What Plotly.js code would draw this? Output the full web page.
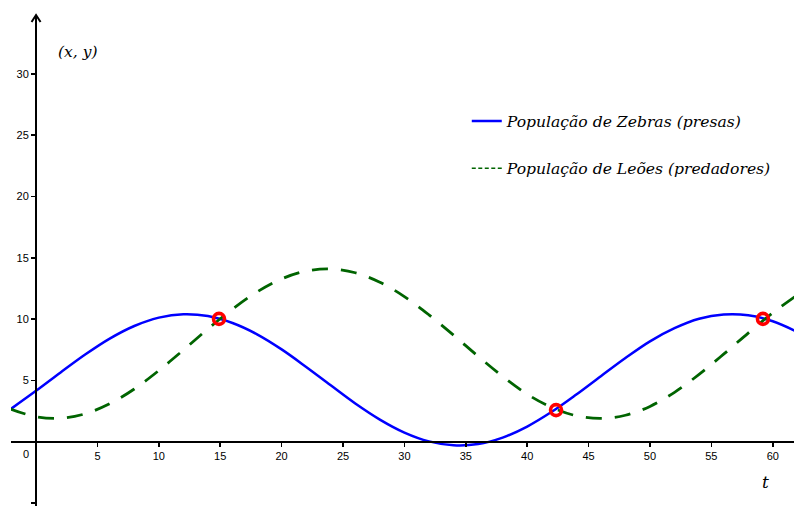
<!DOCTYPE html>
<html><head><meta charset="utf-8">
<script src="https://cdn.plot.ly/plotly-3.0.1.min.js"></script>
<style>html,body{margin:0;padding:0;background:#fff}</style>
</head><body><div id="chart" style="width:794px;height:506px"></div>
<script>
// time (t)
const t = [-2.1,0,2,4,6,8,10,12,14,16,18,20,22,24,26,28,30,32,34,36,38,40,42,44,46,48,50,52,54,56,58,60,62];
// Zebras (prey) population x(t)
const zebras = [2.64,4.15,5.65,7.11,8.41,9.44,10.12,10.40,10.25,9.68,8.76,7.53,6.10,4.60,3.12,1.81,0.75,0.03,-0.29,-0.19,0.34,1.24,2.44,3.85,5.35,6.83,8.19,9.26,10.03,10.37,10.31,9.83,8.96];
// Lions (predators) population y(t)
const leoes = [2.68,2.04,1.92,2.28,3.10,4.30,5.81,7.48,9.20,10.82,12.22,13.28,13.92,14.09,13.78,13.01,11.84,10.35,8.69,6.97,5.33,3.88,2.80,2.12,1.90,2.16,2.88,4.03,5.49,7.14,8.86,10.51,11.97];
// intersection points
const crossT = [14.9, 42.35, 59.2];
const crossV = [10.02, 2.58, 10.02];
// ticks
const xTicks = [5,10,15,20,25,30,35,40,45,50,55,60];
const yTicks = [-5,5,10,15,20,25,30];
const yTickText = ['','5','10','15','20','25','30'];
const nameZebras = 'População de Zebras (presas)';
const nameLeoes = 'População de Leões (predadores)';

const xRange = [-2.04, 61.73];
const yRange = [-5.24, 34.8];

const traces = [
  {x: t, y: zebras, type: 'scatter', mode: 'lines', name: nameZebras,
   legendgroup: 'a', line: {color: '#0000ff', width: 2.5, shape: 'spline', smoothing: 1}},
  {x: t, y: leoes, type: 'scatter', mode: 'lines', name: nameLeoes, showlegend: false,
   legendgroup: 'b', line: {color: '#006400', width: 2.8, shape: 'spline', smoothing: 1, dash: '16px,13px'}},
  {x: [null], y: [null], type: 'scatter', mode: 'lines', name: nameLeoes,
   legendgroup: 'b', line: {color: '#006400', width: 1.6, dash: '4px,2.5px'}},
  {x: crossT, y: crossV, type: 'scatter', mode: 'markers', showlegend: false, hoverinfo: 'skip',
   marker: {symbol: 'circle-open', size: 11, color: '#ff0000', line: {width: 3.6, color: '#ff0000'}}}
];

function tickFont() { return {family: 'Liberation Sans', size: 11, color: '#000000'}; }
function serifFont(s) { return {family: 'DejaVu Serif', size: s, color: '#000000', style: 'italic'}; }

const layout = {
  width: 794, height: 506,
  margin: {l: 11, r: 0, t: 15, b: 0, pad: 0},
  paper_bgcolor: '#fff', plot_bgcolor: '#fff',
  showlegend: true,
  legend: {x: 0.978, y: 0.818, xanchor: 'right', yanchor: 'top',
           bgcolor: 'rgba(0,0,0,0)', font: serifFont(15.6), traceorder: 'grouped', tracegroupgap: 24, itemwidth: 30},
  xaxis: {range: xRange, showgrid: false, zeroline: false, showline: true, linecolor: '#000', linewidth: 2,
          anchor: 'free', position: (0 - yRange[0]) / (yRange[1] - yRange[0]),
          tickmode: 'array', tickvals: xTicks, ticks: 'outside', ticklen: 4, tickwidth: 1.5, tickcolor: '#000',
          tickfont: tickFont(), fixedrange: true},
  yaxis: {range: yRange, showgrid: false, zeroline: false, showline: true, linecolor: '#000', linewidth: 2,
          anchor: 'free', position: (0 - xRange[0]) / (xRange[1] - xRange[0]),
          tickmode: 'array', tickvals: yTicks, ticktext: yTickText, ticks: 'outside', ticklen: 4, tickwidth: 1.5, tickcolor: '#000',
          tickfont: tickFont(), fixedrange: true},
  annotations: [
    {x: 0, y: 0, xref: 'x', yref: 'y', text: '0', showarrow: false, xshift: -10, yshift: -12, font: tickFont()},
    {x: 0.0575, y: 0.925, xref: 'paper', yref: 'paper', text: '(x, y)', showarrow: false, xanchor: 'left', yanchor: 'middle', font: serifFont(15.5)},
    {x: 0.964, y: 0.048, xref: 'paper', yref: 'paper', text: 't', showarrow: false, xanchor: 'center', yanchor: 'middle', font: serifFont(17)}
  ],
  shapes: [
    {type: 'path', xref: 'x', yref: 'paper', xsizemode: 'pixel', ysizemode: 'pixel', xanchor: 0, yanchor: 1,
     path: 'M -4.5 -7 L 0 0 L 4.5 -7', line: {color: '#000', width: 2}}
  ]
};

Plotly.newPlot('chart', traces, layout, {displayModeBar: false, staticPlot: true});
</script>
</body></html>
